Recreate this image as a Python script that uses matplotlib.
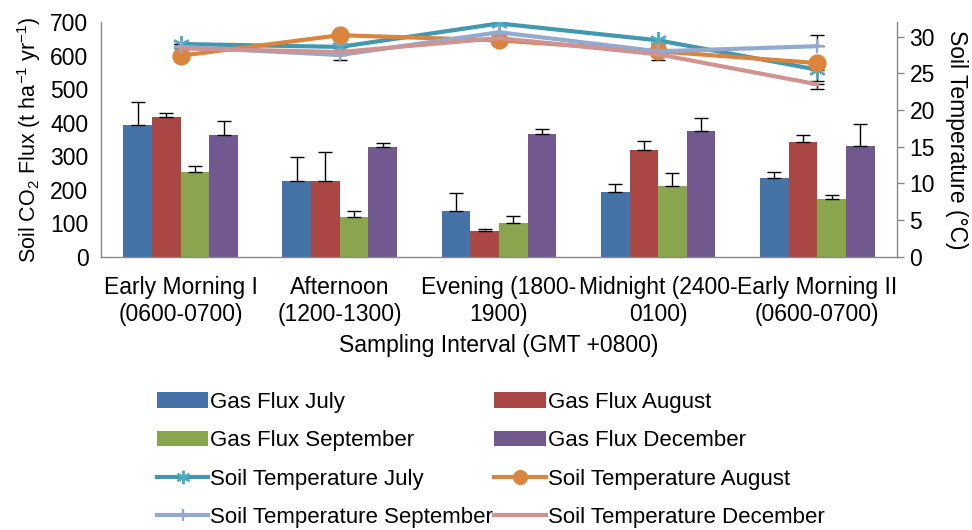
import matplotlib
matplotlib.use("Agg")
import matplotlib.pyplot as plt
import numpy as np

plt.rcParams['font.family'] = ['Liberation Sans', 'DejaVu Sans']
plt.rcParams['mathtext.fontset'] = 'custom'
plt.rcParams['mathtext.rm'] = 'Liberation Sans'
plt.rcParams['mathtext.it'] = 'Liberation Sans:italic'

categories = ["Early Morning I\n(0600-0700)", "Afternoon\n(1200-1300)",
              "Evening (1800-\n1900)", "Midnight (2400-\n0100)",
              "Early Morning II\n(0600-0700)"]

# Soil CO2 flux (t ha-1 yr-1) and upper error
flux_july = [393, 226, 135, 192, 234]
flux_july_err = [67, 70, 56, 24, 19]
flux_aug = [417, 226, 77, 318, 341]
flux_aug_err = [12, 85, 7, 28, 21]
flux_sep = [253, 117, 101, 211, 172]
flux_sep_err = [18, 20, 20, 38, 12]
flux_dec = [362, 328, 365, 375, 329]
flux_dec_err = [43, 12, 15, 40, 66]

# Soil temperature (deg C)
temp_july = [29.0, 28.6, 31.8, 29.5, 25.5]
temp_aug = [27.4, 30.2, 29.5, 28.0, 26.4]
temp_sep = [28.6, 27.5, 30.6, 28.0, 28.7]
temp_dec = [28.4, 27.9, 29.8, 27.6, 23.5]
# one-sided errors: (lower, upper)
temp_july_err = ([0, 0, 0, 0, 1.6], [0, 0, 0, 0, 0])
temp_aug_err = ([0, 0, 0, 1.2, 0], [0, 0, 0, 0, 0])
temp_sep_err = ([0, 0.7, 0, 0, 0], [0, 0, 0, 0, 1.5])
temp_dec_err = ([0, 0, 0, 0, 0.7], [0, 0, 0, 0, 0])

c_blue, c_red, c_green, c_purple = "#4572A7", "#AA4643", "#89A54E", "#71588F"
c_teal, c_orange, c_lblue, c_pink = "#4198AF", "#DB843D", "#93A9CF", "#D19392"

fig = plt.figure(figsize=(9.72, 5.30), dpi=100)
ax = fig.add_axes([0.1039, 0.5157, 0.8189, 0.4428])
ax2 = ax.twinx()

x = np.arange(len(categories))
w = 0.18
fs = 16.5
err_kw = dict(ecolor="black", elinewidth=1, capsize=5, capthick=1)

bars = []
for i, (vals, err, col, lab) in enumerate([
        (flux_july, flux_july_err, c_blue, "Gas Flux July"),
        (flux_aug, flux_aug_err, c_red, "Gas Flux August"),
        (flux_sep, flux_sep_err, c_green, "Gas Flux September"),
        (flux_dec, flux_dec_err, c_purple, "Gas Flux December")]):
    yerr = [np.zeros(len(vals)), err]
    b = ax.bar(x + (i - 1.5) * w, vals, w, color=col, label=lab,
               yerr=yerr, error_kw=err_kw, zorder=2)
    bars.append(b)

lines = []
for vals, err, col, mk, mfc, ms, lab in [
        (temp_july, temp_july_err, c_teal, (6, 2, 0), "#4BACC6", 12, "Soil Temperature July"),
        (temp_aug, temp_aug_err, c_orange, "o", c_orange, 11.5, "Soil Temperature August"),
        (temp_sep, temp_sep_err, c_lblue, "+", c_lblue, 10, "Soil Temperature September"),
        (temp_dec, temp_dec_err, c_pink, None, c_pink, 0, "Soil Temperature December")]:
    ax2.errorbar(x, vals, yerr=[err[0], err[1]], fmt="none", ecolor="black",
                 elinewidth=1, capsize=5, capthick=1, zorder=3)
    ln, = ax2.plot(x, vals, color=col, lw=3, marker=mk, ms=ms, mfc=mfc,
                   mec=mfc, mew=1.6, label=lab, zorder=4)
    lines.append(ln)

ax.set_xlim(-0.5, len(categories) - 0.5)
ax.set_ylim(0, 700)
ax.set_yticks(np.arange(0, 701, 100))
ax2.set_ylim(0, 32)
ax2.set_yticks(np.arange(0, 31, 5))

ax.set_xticks(x)
ax.set_xticklabels(categories, fontsize=fs, linespacing=1.2)
ax.tick_params(axis="x", length=0, pad=14)
ax.tick_params(axis="y", length=0, pad=9, labelsize=fs)
ax2.tick_params(axis="y", length=5, width=1, color="#888888", pad=4, labelsize=fs)

for a in (ax, ax2):
    a.spines["top"].set_visible(False)
    for s in ("left", "right", "bottom"):
        a.spines[s].set_color("#888888")
        a.spines[s].set_linewidth(1)
ax.spines["right"].set_visible(False)
ax2.spines["left"].set_visible(False)
ax2.spines["bottom"].set_visible(False)
ax.set_zorder(ax2.get_zorder() - 1)
ax2.patch.set_visible(False)
ax.patch.set_visible(True)

ax.set_ylabel("Soil CO$_2$ Flux (t ha$^{-1}$ yr$^{-1}$)", fontsize=15.5, labelpad=5)
ax2.set_ylabel("Soil Temperature (°C)", fontsize=fs, rotation=270, labelpad=24)
ax.set_xlabel("Sampling Interval (GMT +0800)", fontsize=fs, labelpad=6)

# Legend: two columns, bars first then temperature lines
order_handles = [bars[0], bars[2], lines[0], lines[2], bars[1], bars[3], lines[1], lines[3]]
order_labels = [h.get_label() for h in order_handles]
leg = fig.legend(order_handles, order_labels, ncol=2, loc="center",
                 bbox_to_anchor=(0.505, 0.132), frameon=False, fontsize=16,
                 handlelength=2.3, handletextpad=0.1, columnspacing=0.05,
                 labelspacing=0.78, borderaxespad=0, markerscale=0.8)

fig.savefig("out.png", dpi=100)
